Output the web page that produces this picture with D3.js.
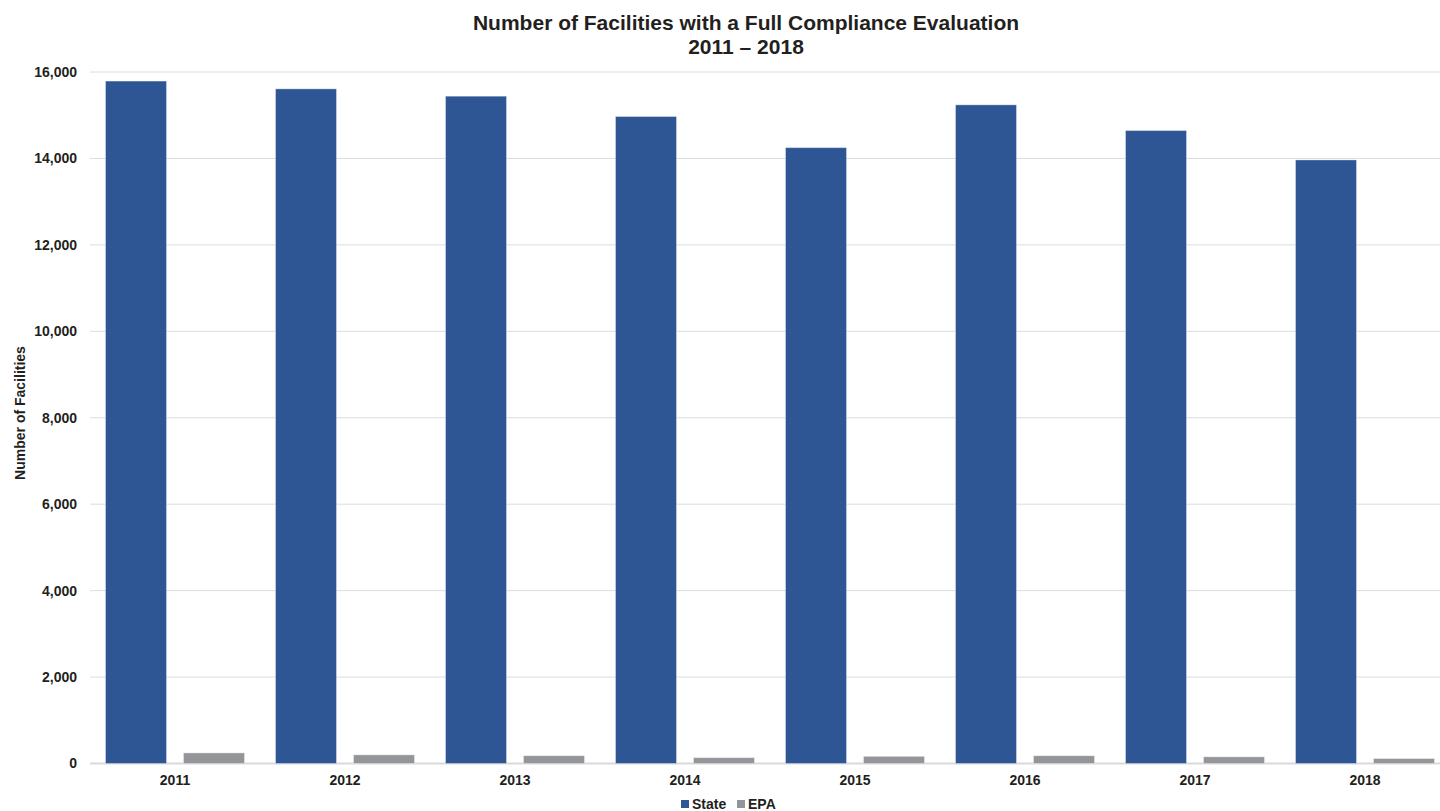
<!DOCTYPE html>
<html>
<head>
<meta charset="utf-8">
<script src="https://cdn.jsdelivr.net/npm/d3@7"></script>
<style>
  html, body { margin: 0; padding: 0; background: #ffffff; }
  svg { display: block; font-family: "Liberation Sans", Arial, sans-serif; }
</style>
</head>
<body>
<svg id="chart" width="1440" height="811"></svg>
<script>
// Facilities receiving a full compliance evaluation, by year and agency
const years = ["2011", "2012", "2013", "2014", "2015", "2016", "2017", "2018"];
const seriesNames = ["State", "EPA"];
const stateValues = [15790, 15610, 15440, 14970, 14250, 15240, 14645, 13965];
const epaValues = [245, 200, 180, 135, 165, 180, 155, 115];
const yTicks = [0, 2000, 4000, 6000, 8000, 10000, 12000, 14000, 16000];
const seriesColors = ["#2e5594", "#939598"];

const svg = d3.select("#chart");
const W = 1440;

const plot = { left: 90, right: 1450, top: 72, bottom: 763.5 };

const x0 = d3.scaleBand().domain(years).range([plot.left, plot.right]).padding(0);
const x1 = d3.scaleBand().domain(seriesNames).range([0, x0.bandwidth()])
  .paddingInner(0.218).paddingOuter(0.199);
const y = d3.scaleLinear().domain([0, 16000]).range([plot.bottom, plot.top]);
const color = d3.scaleOrdinal().domain(seriesNames).range(seriesColors);

// Gridlines
svg.append("g")
  .selectAll("line")
  .data(yTicks)
  .join("line")
  .attr("x1", plot.left).attr("x2", W)
  .attr("y1", d => y(d)).attr("y2", d => y(d))
  .attr("stroke", d => d === 0 ? "#d9d9d9" : "#dcdcdc")
  .attr("stroke-width", d => d === 0 ? 2 : 1);

// Y axis labels
const yAxis = d3.axisLeft(y).tickValues(yTicks).tickFormat(d3.format(",")).tickSize(0).tickPadding(13);
svg.append("g")
  .attr("transform", `translate(${plot.left},0)`)
  .call(yAxis)
  .call(g => g.select(".domain").remove())
  .call(g => g.selectAll("text")
    .attr("font-family", "Liberation Sans, Arial, sans-serif")
    .attr("font-size", 14).attr("font-weight", "bold").attr("fill", "#231f20"));

// Bars
const rows = years.map((yr, i) => ({ year: yr, values: [
  { key: "State", value: stateValues[i] },
  { key: "EPA", value: epaValues[i] }
]}));

const groups = svg.append("g")
  .selectAll("g")
  .data(rows)
  .join("g")
  .attr("transform", d => `translate(${x0(d.year)},0)`);

groups.selectAll("rect")
  .data(d => d.values)
  .join("rect")
  .attr("x", d => x1(d.key))
  .attr("width", x1.bandwidth())
  .attr("y", d => y(d.value))
  .attr("height", d => y(0) - y(d.value))
  .attr("fill", d => color(d.key))
  .attr("stroke", "rgba(255,255,255,0.35)")
  .attr("stroke-width", 1);

// X axis labels
const xAxis = d3.axisBottom(x0).tickSize(0).tickPadding(12);
svg.append("g")
  .attr("transform", `translate(0,${plot.bottom})`)
  .call(xAxis)
  .call(g => g.select(".domain").remove())
  .call(g => g.selectAll("text")
    .attr("font-family", "Liberation Sans, Arial, sans-serif")
    .attr("font-size", 14).attr("font-weight", "bold").attr("fill", "#231f20"));

// Title
const title = svg.append("text")
  .attr("text-anchor", "middle")
  .attr("font-size", 21).attr("font-weight", "bold").attr("fill", "#231f20");
title.append("tspan").attr("x", 746).attr("y", 30)
  .text("Number of Facilities with a Full Compliance Evaluation");
title.append("tspan").attr("x", 746).attr("y", 54)
  .text("2011 \u2013 2018");

// Y axis title
svg.append("text")
  .attr("transform", "translate(25,413) rotate(-90)")
  .attr("text-anchor", "middle")
  .attr("font-size", 14).attr("font-weight", "bold").attr("fill", "#231f20")
  .text("Number of Facilities");

// Legend
const legend = svg.append("g").attr("transform", "translate(681,800)");
const legendX = [0, 56];
seriesNames.forEach((name, i) => {
  const g = legend.append("g").attr("transform", `translate(${legendX[i]},0)`);
  g.append("rect").attr("width", 8).attr("height", 8).attr("fill", color(name));
  g.append("text").attr("x", 11).attr("y", 9)
    .attr("font-size", 14).attr("font-weight", "bold").attr("fill", "#231f20")
    .text(name);
});
</script>
</body>
</html>
